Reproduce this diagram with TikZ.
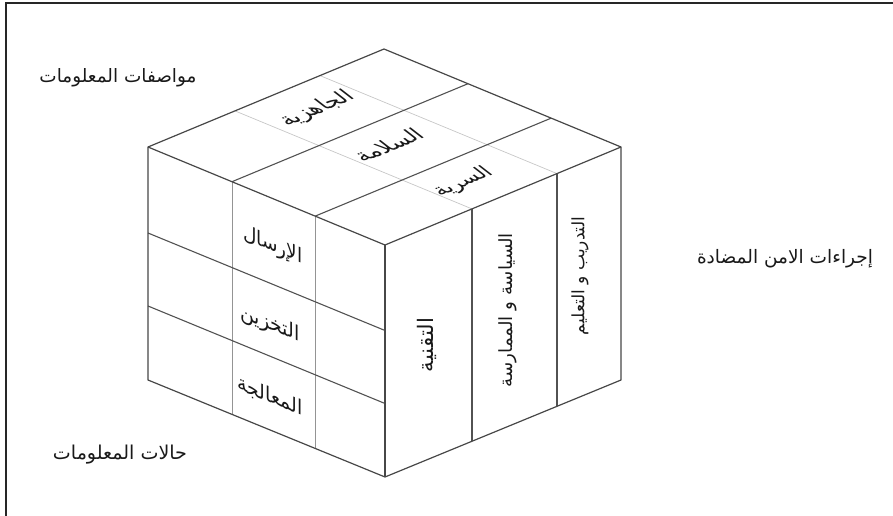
\documentclass[tikz,border=0pt]{standalone}
\usepackage{graphicx}
\usepackage{fontspec}
\newfontfamily\arabicfont[Script=Arabic]{DejaVu Sans}
\TeXXeTstate=1
\newcommand\artxt[2]{\resizebox{#1}{!}{\arabicfont #2}}
\begin{document}
\begin{tikzpicture}[x=1pt,y=-1pt,
  outl/.style={draw=black!72, line width=1.2pt, line join=round},
  dark/.style={draw=black!68, line width=1.1pt},
  mid/.style={draw=black!42, line width=0.9pt},
  light/.style={draw=black!22, line width=0.7pt},
  lbl/.style={inner sep=0pt, text=black!90},
]
\useasboundingbox (0,0) rectangle (893,516);
\draw[line width=2pt, black!85] (6,516) -- (6,3) -- (893,3);

% cube corners
\coordinate (A) at (148,147);
\coordinate (B) at (385,245);
\coordinate (C) at (621,147);
\coordinate (D) at (384,49);
\coordinate (A2) at (148,380);
\coordinate (B2) at (385,477);
\coordinate (C2) at (621,380);

% grid points
\coordinate (l1t) at (232,181.7); \coordinate (l1b) at (232,414.7);
\coordinate (l2t) at (315,216.2); \coordinate (l2b) at (315,449.2);
\coordinate (r1a) at (148,233);   \coordinate (r1b) at (385,330.5);
\coordinate (r2a) at (148,306);   \coordinate (r2b) at (385,403.5);
\coordinate (c1t) at (472,208.9); \coordinate (c1b) at (472,440.9);
\coordinate (c2t) at (557,173.6); \coordinate (c2b) at (557,405.6);
\coordinate (t1e) at (468,83.7);  \coordinate (t2e) at (551,118.2);
\coordinate (u1e) at (235,110.9); \coordinate (u2e) at (320,75.6);

% top face light lines
\draw[light] (c1t) -- (u1e);
\draw[light] (c2t) -- (u2e);
% left face column dividers
\draw[mid] (l1t) -- (l1b);
\draw[mid] (l2t) -- (l2b);
% left face rows
\draw[dark] (r1a) -- (r1b);
\draw[dark] (r2a) -- (r2b);
% right face dividers
\draw[dark] (c1t) -- (c1b);
\draw[dark] (c2t) -- (c2b);
% top face dark lines
\draw[dark] (l1t) -- (t1e);
\draw[dark] (l2t) -- (t2e);
% outline
\draw[outl] (A) -- (D) -- (C) -- (C2) -- (B2) -- (A2) -- cycle;
\draw[outl] (A) -- (B) -- (C);
\draw[outl] (B) -- (B2);

% top face texts
\begin{scope}[shift={(317,109)}, cm={0.924,0.383,-0.8,0.62,(0,0)}]
\node[lbl, transform shape] (tJ) at (0,0) {\artxt{74pt}{\beginR الجاهزية\endR}};
\end{scope}
\begin{scope}[shift={(388,145)}, cm={0.924,0.383,-0.8,0.62,(0,0)}]
\node[lbl, transform shape] (tS) at (0,0) {\artxt{68pt}{\beginR السلامة\endR}};
\end{scope}
\begin{scope}[shift={(463,182)}, cm={0.924,0.383,-0.8,0.62,(0,0)}]
\node[lbl, transform shape] (tR) at (0,0) {\artxt{58pt}{\beginR السرية\endR}};
\end{scope}

% left face texts
\begin{scope}[shift={(273,246)}, cm={0.924,-0.383,0,1,(0,0)}]
\node[lbl, transform shape] (lA) at (0,0) {\artxt{64pt}{\beginR الإرسال\endR}};
\end{scope}
\begin{scope}[shift={(270,324)}, cm={0.924,-0.383,0,1,(0,0)}]
\node[lbl, transform shape] (lB) at (0,0) {\artxt{64pt}{\beginR التخزين\endR}};
\end{scope}
\begin{scope}[shift={(270,396)}, cm={0.924,-0.383,0,1,(0,0)}]
\node[lbl, transform shape] (lC) at (0,0) {\artxt{70pt}{\beginR المعالجة\endR}};
\end{scope}

% right face texts
\node[lbl, rotate=90] (rA) at (427,345) {\artxt{54pt}{\beginR التقنية\endR}};
\node[lbl, rotate=90] (rB) at (508,310) {\artxt{154pt}{\beginR السياسة و الممارسة\endR}};
\node[lbl, rotate=90] (rC) at (580,276) {\artxt{118pt}{\beginR التدريب و التعليم\endR}};

% side labels
\node[lbl] (sTop) at (118,78) {\artxt{157pt}{\beginR مواصفات المعلومات\endR}};
\node[lbl] (sBot) at (120,455) {\artxt{134pt}{\beginR حالات المعلومات\endR}};
\node[lbl] (sRight) at (785,259) {\artxt{176pt}{\beginR إجراءات الامن المضادة\endR}};
\end{tikzpicture}
\end{document}
